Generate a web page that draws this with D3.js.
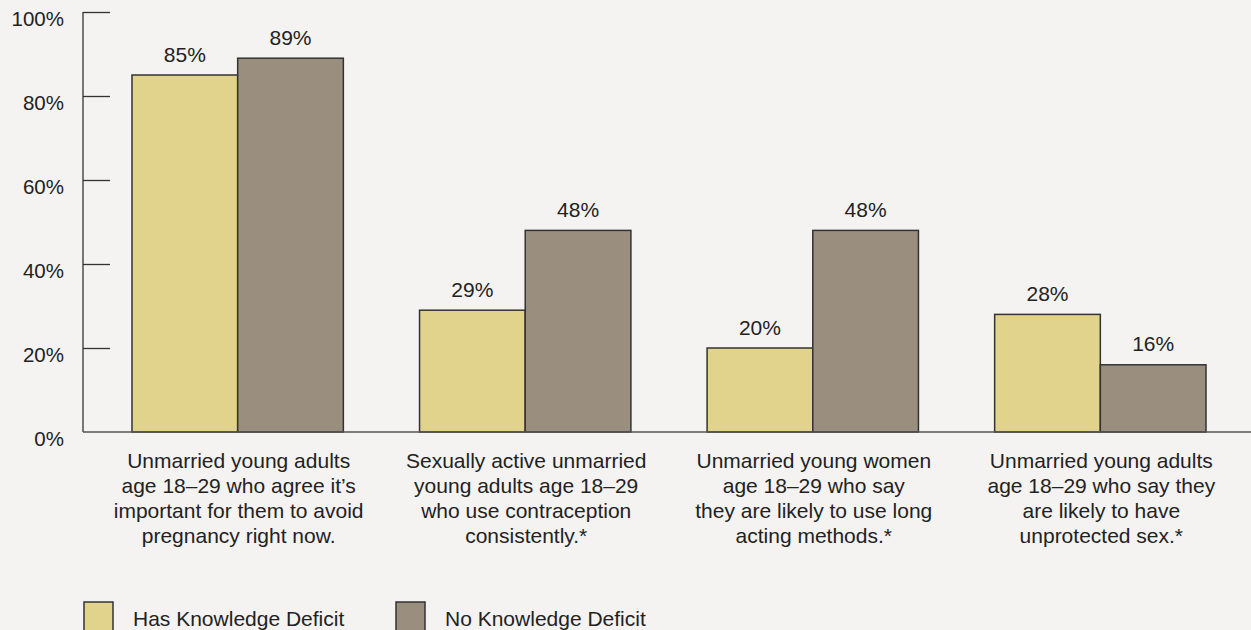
<!DOCTYPE html>
<html>
<head>
<meta charset="utf-8">
<script src="https://cdn.jsdelivr.net/npm/d3@7"></script>
<style>
  html, body { margin: 0; padding: 0; background: #f4f3f1; }
  svg { display: block; }
  text { font-family: "Liberation Sans", Arial, Helvetica, sans-serif; fill: #222; }
</style>
</head>
<body>
<svg id="chart" width="1251" height="630"></svg>
<script>
const categories = [
  ["Unmarried young adults", "age 18\u201329 who agree it\u2019s", "important for them to avoid", "pregnancy right now."],
  ["Sexually active unmarried", "young adults age 18\u201329", "who use contraception", "consistently.*"],
  ["Unmarried young women", "age 18\u201329 who say", "they are likely to use long", "acting methods.*"],
  ["Unmarried young adults", "age 18\u201329 who say they", "are likely to have", "unprotected sex.*"]
];
const seriesNames = ["Has Knowledge Deficit", "No Knowledge Deficit"];
const hasDeficit = [85, 29, 20, 28];
const noDeficit = [89, 48, 48, 16];
const yTicks = [0, 20, 40, 60, 80, 100];
const colors = ["#e1d38c", "#9a8e7f"];

const svg = d3.select("#chart");
const W = 1251, H = 630;
const axisX = 83, y0 = 432, yTop = 12;

const y = d3.scaleLinear().domain([0, 100]).range([y0, yTop]);
const x0 = d3.scaleBand().domain(d3.range(categories.length))
  .range([132, 1206]).paddingInner(0.265).paddingOuter(0);
const x1 = d3.scaleBand().domain([0, 1]).range([0, x0.bandwidth()]);

const data = categories.map((c, i) => ({i, vals: [hasDeficit[i], noDeficit[i]]}));

// Y axis
const yAxis = d3.axisRight(y).tickValues(yTicks).tickSize(27).tickFormat("");
const ya = svg.append("g").attr("transform", `translate(${axisX},0)`).call(yAxis);
ya.select(".domain").remove();
ya.selectAll(".tick line").attr("stroke", "#333").attr("stroke-width", 1.3);
ya.selectAll(".tick").filter(d => d === 0).remove();
svg.append("line").attr("x1", axisX).attr("x2", axisX).attr("y1", y(100)).attr("y2", y0)
  .attr("stroke", "#333").attr("stroke-width", 1.3);

svg.append("g").selectAll("text").data(yTicks).join("text")
  .attr("x", 64).attr("y", d => y(d) + 14)
  .attr("text-anchor", "end").style("font-size", "20.5px")
  .text(d => d + "%");

// Bars
const groups = svg.append("g").selectAll("g").data(data).join("g")
  .attr("transform", d => `translate(${x0(d.i)},0)`);
groups.selectAll("rect").data(d => d.vals.map((v, k) => ({v, k}))).join("rect")
  .attr("x", d => x1(d.k)).attr("width", x1.bandwidth())
  .attr("y", d => y(d.v)).attr("height", d => y0 - y(d.v))
  .attr("fill", d => colors[d.k]).attr("stroke", "#333").attr("stroke-width", 1.5);
groups.selectAll("text.val").data(d => d.vals.map((v, k) => ({v, k}))).join("text")
  .attr("class", "val")
  .attr("x", d => x1(d.k) + x1.bandwidth() / 2).attr("y", d => y(d.v) - 13.5)
  .attr("text-anchor", "middle").style("font-size", "21px")
  .text(d => d.v + "%");

// Baseline
svg.append("line").attr("x1", axisX).attr("x2", W).attr("y1", y0).attr("y2", y0)
  .attr("stroke", "#555").attr("stroke-width", 1.5);

// Category labels
const cl = svg.append("g").selectAll("text").data(data).join("text")
  .attr("text-anchor", "middle").style("font-size", "21px")
  .attr("x", d => x0(d.i) + x0.bandwidth() / 2 + 1)
  .attr("y", 467.7);
cl.selectAll("tspan").data(d => categories[d.i]).join("tspan")
  .attr("x", function() { return d3.select(this.parentNode).attr("x"); })
  .attr("dy", (d, k) => k === 0 ? 0 : 25)
  .text(d => d);

// Legend
const legendX = [84, 396];
const lg = svg.append("g").selectAll("g").data(seriesNames).join("g")
  .attr("transform", (d, k) => `translate(${legendX[k]},602)`);
lg.append("rect").attr("width", 29).attr("height", 32)
  .attr("fill", (d, k) => colors[k]).attr("stroke", "#333").attr("stroke-width", 1.5);
lg.append("text").attr("x", 49).attr("y", 24).style("font-size", "21px").text(d => d);
</script>
</body>
</html>
